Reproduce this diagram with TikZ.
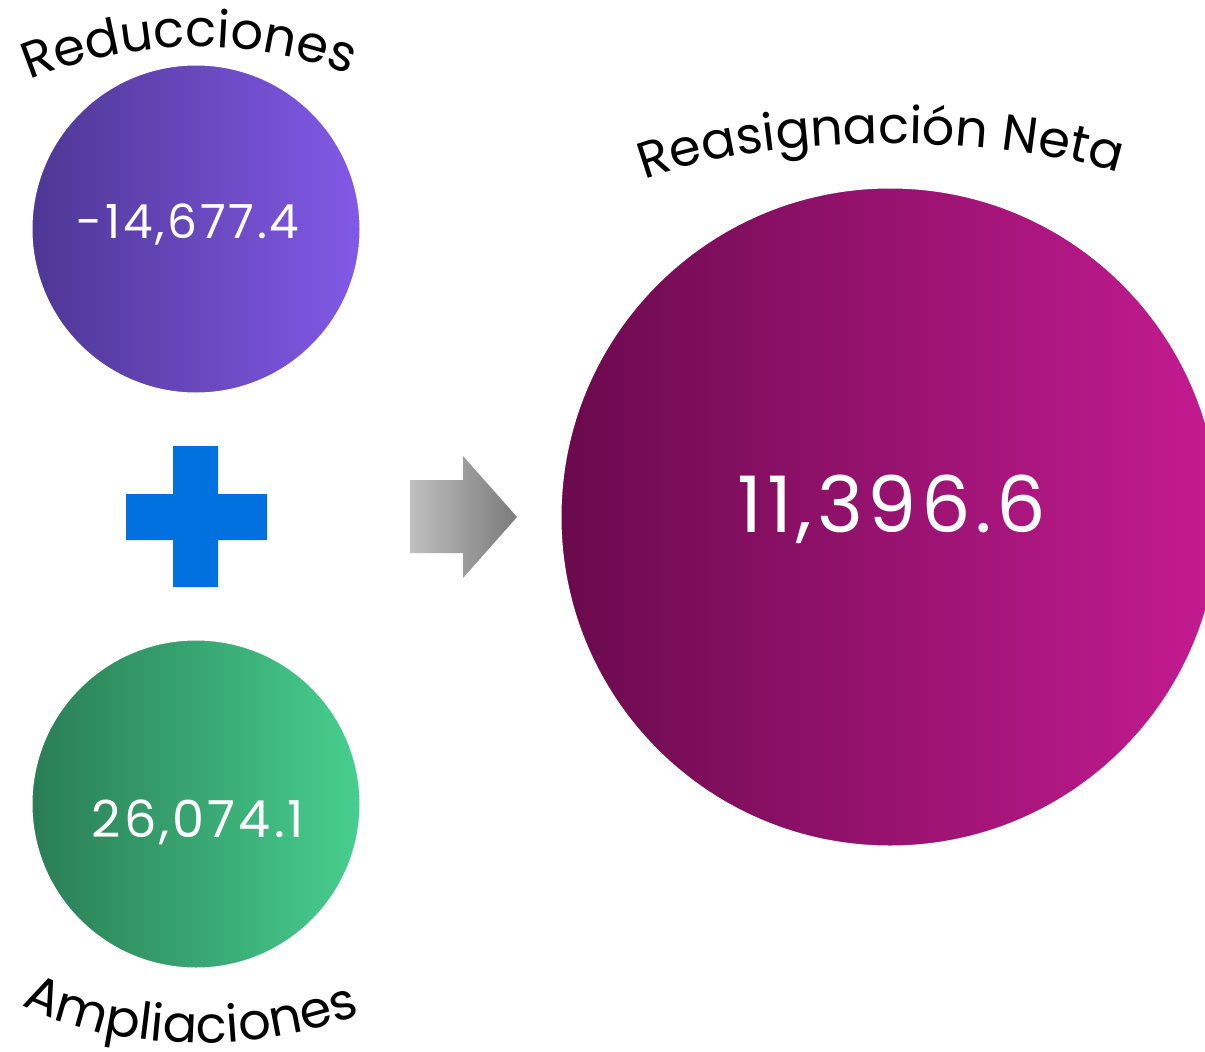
\documentclass[tikz,border=0pt]{standalone}
\usepackage{fontspec}
\setmainfont{Poppins}
\newfontfamily\numfont{Poppins}[LetterSpace=6]
\usetikzlibrary{decorations.text}
\definecolor{redleft}{HTML}{4E3795}
\definecolor{redright}{HTML}{8259E6}
\definecolor{ampleft}{HTML}{2A7D55}
\definecolor{ampright}{HTML}{47CF8F}
\definecolor{netleft}{HTML}{6A0A4D}
\definecolor{netright}{HTML}{C51B92}
\definecolor{plusblue}{HTML}{0071DF}
\begin{document}
\begin{tikzpicture}[x=1pt, y=-1pt,
	bubble/.style={circle, inner sep=0pt, draw=white, line width=1pt},
	amount/.style={text=white, inner sep=0pt},
	curved/.style={decorate, decoration={text along path, text align=center}}]
	\useasboundingbox (0, 0) rectangle (1205, 1052);
	\clip (0, 0) rectangle (1205, 1052);
	\node[bubble, minimum size=328pt, left color=redleft, right color=redright] at (196, 229) (1) {};
	\node[amount, font=\numfont\fontsize{47}{47}\selectfont] at (188, 225) (1t) {-14,677.4};
	\node[bubble, minimum size=328pt, left color=ampleft, right color=ampright] at (196, 804) (2) {};
	\node[amount, font=\numfont\fontsize{51}{51}\selectfont] at (198, 822) (2t) {26,074.1};
	\node[bubble, minimum size=658pt, left color=netleft, right color=netright] at (890, 517) (3) {};
	\node[amount, font=\numfont\fontsize{78}{78}\selectfont] at (892, 509) (3t) {11,396.6};
	\fill[plusblue] (173, 446) -- (218, 446) -- (218, 494) -- (267, 494) -- (267, 540) -- (218, 540)
		-- (218, 587) -- (173, 587) -- (173, 540) -- (126, 540) -- (126, 494) -- (173, 494) -- cycle;
	\shade[left color=black!25, right color=black!52] (410, 480) -- (463, 480) -- (463, 456) -- (517, 517)
		-- (463, 578) -- (463, 553) -- (410, 553) -- cycle;
	\path[curved, decoration={text={|\fontsize{51}{51}\selectfont|Reducciones}}]
		(18, 85) .. controls (130, 35) and (260, 35) .. (360, 80);
	\path[curved, decoration={text={|\fontsize{51}{51}\selectfont|Reasignación Neta}}]
		(635, 183) .. controls (760, 132) and (1000, 132) .. (1128, 176);
	\path[curved, decoration={text={|\fontsize{51}{51}\selectfont|Ampliaciones}}]
		(16, 1002) .. controls (120, 1055) and (260, 1055) .. (366, 1012);
\end{tikzpicture}
\end{document}
